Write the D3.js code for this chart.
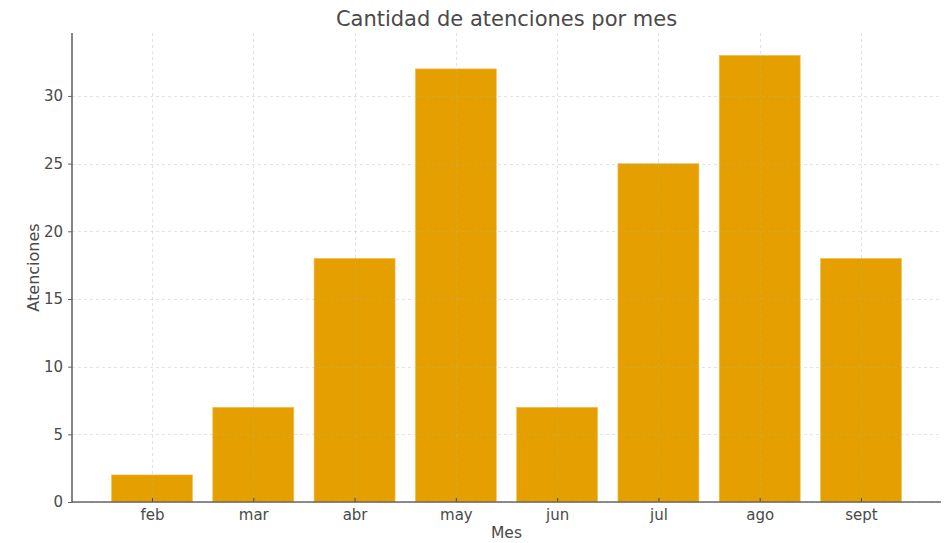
<!DOCTYPE html>
<html>
<head>
<meta charset="utf-8">
<script src="https://cdn.jsdelivr.net/npm/d3@7"></script>
<style>
  body { margin: 0; background: #fff; }
  text { font-family: "DejaVu Sans", sans-serif; fill: #4a4a4a; }
</style>
</head>
<body>
<svg id="chart" width="951" height="543"></svg>
<script>
// Data
var months = ["feb", "mar", "abr", "may", "jun", "jul", "ago", "sept"];
var atenciones = [2, 7, 18, 32, 7, 25, 33, 18];
var yTicks = [0, 5, 10, 15, 20, 25, 30];

var svg = d3.select("#chart");

var plot = { left: 72, right: 941, top: 33, bottom: 502 };

// x as continuous index, like matplotlib bars (width 0.8, 5% margins)
var n = months.length;
var span = (n - 1) + 0.8;
var xMin = -0.4 - span * 0.05, xMax = (n - 1) + 0.4 + span * 0.05;
var x = d3.scaleLinear().domain([xMin, xMax]).range([plot.left, plot.right]);

var yMax = d3.max(atenciones) * 1.05;
var y = d3.scaleLinear().domain([0, yMax]).range([plot.bottom, plot.top]);

// Bars
svg.append("g").selectAll("rect")
    .data(atenciones)
    .enter().append("rect")
    .attr("x", (d, i) => x(i - 0.4))
    .attr("width", (d, i) => x(i + 0.4) - x(i - 0.4))
    .attr("y", d => y(d))
    .attr("height", d => y(0) - y(d))
    .attr("fill", "#e5a000")
    .attr("stroke", "#f0c060")
    .attr("stroke-width", 0.6);

// Grid on top of bars
var grid = svg.append("g").attr("stroke", "#b0b0b0").attr("stroke-opacity", 0.45)
    .attr("stroke-dasharray", "3,3").attr("stroke-width", 0.8);
grid.selectAll(".gy").data(yTicks).enter().append("line")
    .attr("x1", plot.left).attr("x2", plot.right)
    .attr("y1", d => Math.round(y(d)) + 0.5).attr("y2", d => Math.round(y(d)) + 0.5);
grid.selectAll(".gx").data(months).enter().append("line")
    .attr("x1", (d, i) => Math.round(x(i)) + 0.5).attr("x2", (d, i) => Math.round(x(i)) + 0.5)
    .attr("y1", plot.top).attr("y2", plot.bottom);

// Y axis
var yAxis = d3.axisLeft(y).tickValues(yTicks).tickSize(4).tickPadding(5);
var gy = svg.append("g")
    .attr("transform", "translate(" + plot.left + ",0)")
    .call(yAxis);
gy.select(".domain").remove();
gy.selectAll(".tick line").attr("stroke", "#666");
gy.selectAll(".tick text").style("font-size", "15px").attr("fill", "#4a4a4a");

// X axis (ticks pointing inward)
var xAxis = d3.axisBottom(x).tickValues(d3.range(n)).tickFormat(i => months[i])
    .tickSizeInner(-4).tickSizeOuter(0).tickPadding(7);
var gx = svg.append("g")
    .attr("transform", "translate(0," + plot.bottom + ")")
    .call(xAxis);
gx.select(".domain").remove();
gx.selectAll(".tick line").attr("stroke", "#444");
gx.selectAll(".tick text").style("font-size", "15px").attr("fill", "#4a4a4a").attr("dy", "0.71em");

// Spines
svg.append("line").attr("x1", plot.left).attr("x2", plot.left)
    .attr("y1", plot.top).attr("y2", plot.bottom + 1)
    .attr("stroke", "#666").attr("stroke-width", 1.6);
svg.append("line").attr("x1", plot.left).attr("x2", plot.right)
    .attr("y1", plot.bottom).attr("y2", plot.bottom)
    .attr("stroke", "#666").attr("stroke-width", 1.6);

// Labels
svg.append("text")
    .attr("x", (plot.left + plot.right) / 2).attr("y", 26)
    .attr("text-anchor", "middle")
    .style("font-size", "21px")
    .text("Cantidad de atenciones por mes");

svg.append("text")
    .attr("x", (plot.left + plot.right) / 2).attr("y", 538)
    .attr("text-anchor", "middle")
    .style("font-size", "15.5px")
    .text("Mes");

svg.append("text")
    .attr("transform", "translate(39," + (plot.top + plot.bottom) / 2 + ") rotate(-90)")
    .attr("text-anchor", "middle")
    .style("font-size", "16px")
    .text("Atenciones");
</script>
</body>
</html>
